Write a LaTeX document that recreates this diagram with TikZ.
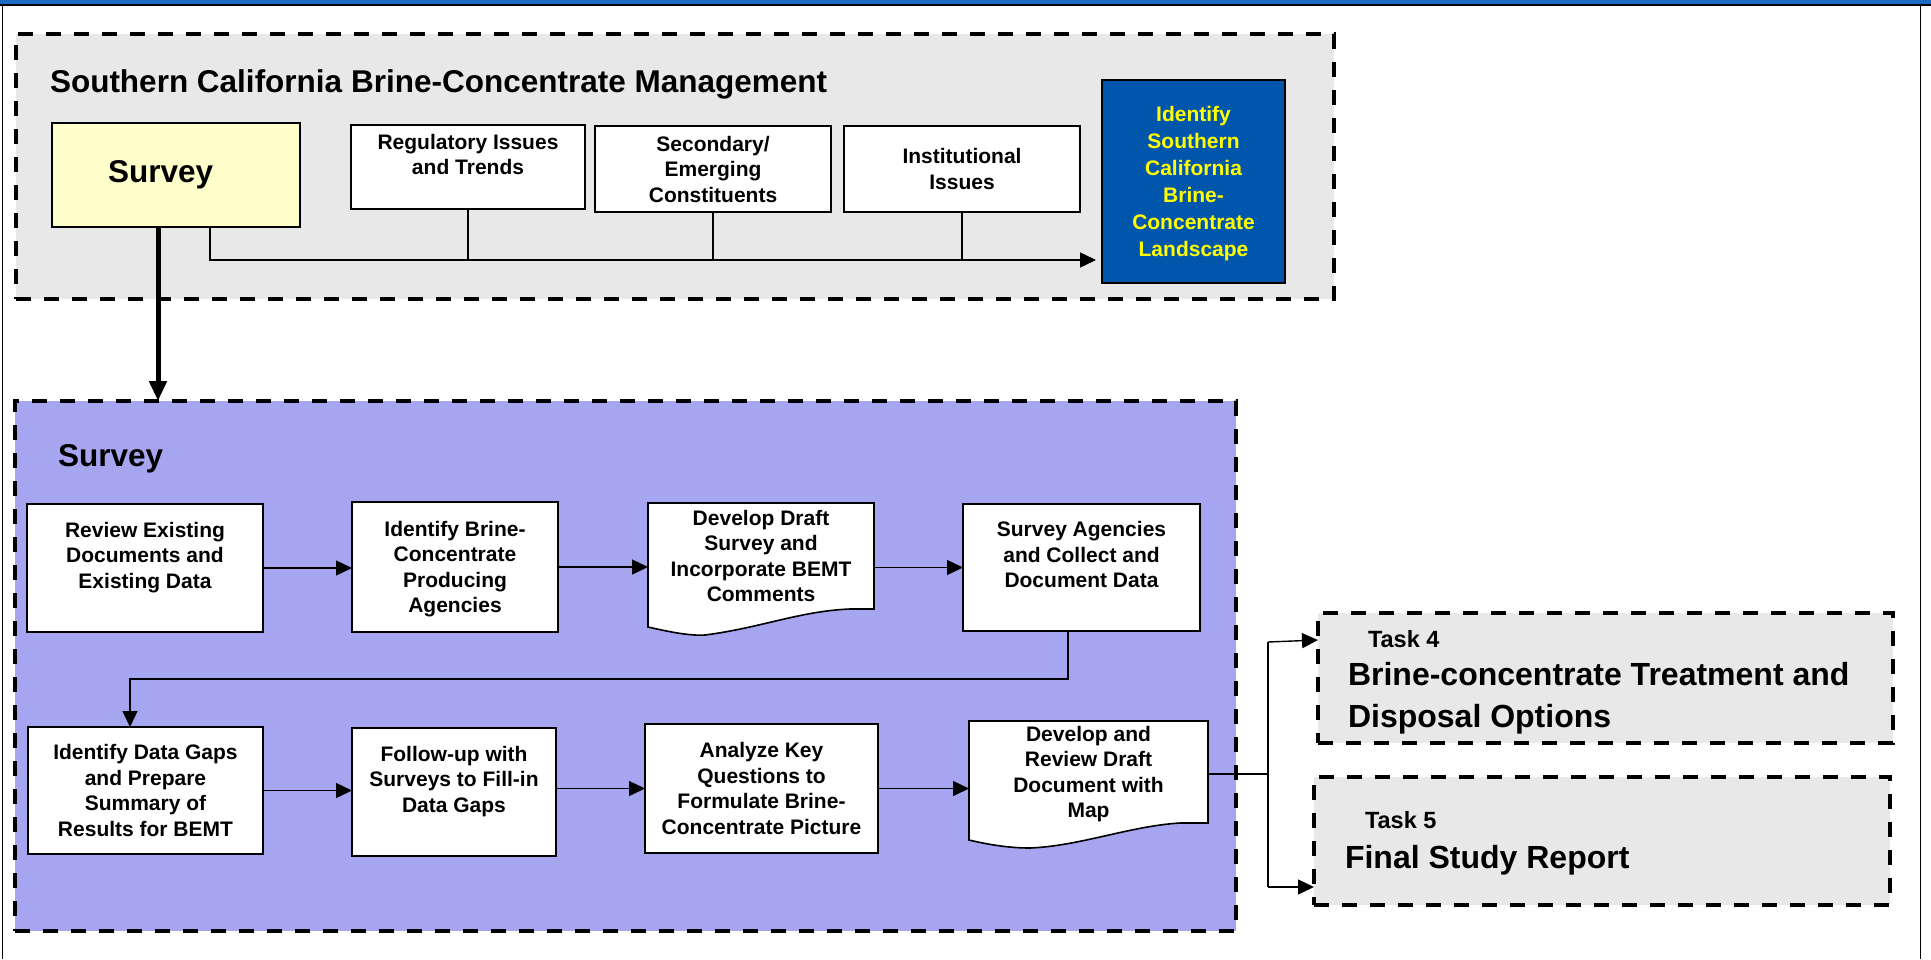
\documentclass[tikz,border=0pt]{standalone}
\usepackage{fontspec}
\setmainfont{Liberation Sans}
\usetikzlibrary{arrows.meta,calc}
\definecolor{band}{RGB}{31,107,194}
\definecolor{grayfill}{RGB}{232,232,232}
\definecolor{yel}{RGB}{255,255,204}
\definecolor{bluebox}{RGB}{0,86,170}
\definecolor{yeltext}{RGB}{255,255,0}
\definecolor{purp}{RGB}{165,165,240}
\newcommand\lnS{\vrule width 0pt height 0.94em depth 0.22em}
\newcommand\fBox{\fontsize{10.5pt}{12.75pt}\selectfont\bfseries}
\newcommand\fBlue{\fontsize{10.5pt}{13.5pt}\selectfont\bfseries}
\newcommand\fTitle{\fontsize{15.75pt}{19pt}\selectfont\bfseries}
\newcommand\fTask{\fontsize{11.75pt}{14pt}\selectfont\bfseries}
\newcommand\fBig{\fontsize{16pt}{21pt}\selectfont\bfseries}
\begin{document}
\begin{tikzpicture}[x=0.5pt,y=-0.5pt,
  wbox/.style={draw=black, line width=0.8pt, fill=white, inner sep=0pt, outer sep=0pt, align=center, font=\fBox},
  plainbox/.style={inner sep=0pt, outer sep=0pt, align=center, font=\fBox},
  docshape/.style={draw=black, line width=0.8pt, fill=white},
  region/.style={draw=black, line width=1.75pt, dash pattern=on 7.5pt off 6.5pt, inner sep=0pt, outer sep=0pt},
  conn/.style={draw=black, line width=0.7pt},
  arr/.style={conn, -{Triangle[length=8pt,width=7.5pt]}},
  thickarr/.style={draw=black, line width=2.5pt, -{Triangle[length=10pt,width=8.5pt]}},
  lbl/.style={anchor=base west, inner sep=0pt, outer sep=0pt}]
\useasboundingbox (0,0) rectangle (1931,959);
% frame
\fill[band] (0,0) rectangle (1931,4);
\draw[line width=1pt] (0,4.5) -- (1931,4.5);
\draw[line width=0.8pt] (2.5,4.5) -- (2.5,959);
\draw[line width=0.8pt] (1920.5,4.5) -- (1920.5,959);

% top region
\node[region, fill=grayfill, minimum width=659pt, minimum height=132.5pt] (gry) at (675,166.5) {};
\node[lbl, font=\fTitle] (ttl) at (50,92.5) {Southern California Brine-Concentrate Management};
\node[wbox, fill=yel, font=\fTitle, align=left, text width=68pt, inner xsep=28pt, minimum height=52pt] (svy) at (176,175) {Survey};
\node[wbox, minimum width=117pt, minimum height=42pt] (reg) at (468,167) {\lnS Regulatory Issues\\\lnS and Trends\\\lnS};
\node[wbox, minimum width=118pt, minimum height=43pt] (sec) at (713,169) {\lnS Secondary/\\\lnS Emerging\\\lnS Constituents};
\node[wbox, minimum width=118pt, minimum height=43pt] (ins) at (962,169) {\lnS Institutional\\\lnS Issues};
\node[wbox, fill=bluebox, text=yeltext, font=\fBlue, minimum width=91.5pt, minimum height=101.5pt] (blu) at (1193.5,181.5) {\lnS Identify\\\lnS Southern\\\lnS California\\\lnS Brine-\\\lnS Concentrate\\\lnS Landscape};
\coordinate (bus) at (210,260);
\draw[arr, shorten >=3pt] (svy.south -| bus) -- (bus) -- (bus -| blu.west);
\draw[conn] (reg.south) -- (reg.south |- bus);
\draw[conn] (sec.south) -- (sec.south |- bus);
\draw[conn] (ins.south) -- (ins.south |- bus);

% survey region
\node[region, fill=purp, minimum width=610.5pt, minimum height=265pt] (pur) at (625.5,666) {};
\coordinate (tk) at (158,0);
\draw[thickarr] (svy.south -| tk) -- (tk |- pur.north);
\node[lbl, font=\fTitle] (pttl) at (58,466) {Survey};

% row 1
\node[wbox, minimum width=118pt, minimum height=64pt] (rev) at (145,568) {\lnS Review Existing\\\lnS Documents and\\\lnS Existing Data\\\lnS};
\node[wbox, minimum width=103pt, minimum height=65pt] (idb) at (455,567) {\lnS Identify Brine-\\\lnS Concentrate\\\lnS Producing\\\lnS Agencies};
\filldraw[docshape] (648,503) -- (874,503) -- (874,609) -- (850,609) .. controls (800,611) and (760,628) .. (705,635) .. controls (690,636) and (670,632) .. (648,627) -- cycle;
\node[plainbox, minimum width=113pt, minimum height=53pt] (ddr) at (761,556) {\lnS Develop Draft\\\lnS Survey and\\\lnS Incorporate BEMT\\\lnS Comments};
\node[wbox, minimum width=118.5pt, minimum height=63.5pt] (sag) at (1081.5,567.5) {\lnS Survey Agencies\\\lnS and Collect and\\\lnS Document Data\\\lnS};
\draw[arr] (rev.east) -- (rev.east -| idb.west);
\draw[arr] (idb.east) -- (idb.east -| ddr.west);
\draw[arr] (ddr.east |- sag.west) -- (sag.west);

% row 2
\node[wbox, minimum width=117.5pt, minimum height=63.5pt] (ida) at (145.5,790.5) {\lnS Identify Data Gaps\\\lnS and Prepare\\\lnS Summary of\\\lnS Results for BEMT};
\node[wbox, minimum width=102pt, minimum height=64pt] (fol) at (454,792) {\lnS Follow-up with\\\lnS Surveys to Fill-in\\\lnS Data Gaps\\\lnS};
\node[wbox, minimum width=116.5pt, minimum height=64.5pt] (ana) at (761.5,788.5) {\lnS Analyze Key\\\lnS Questions to\\\lnS Formulate Brine-\\\lnS Concentrate Picture};
\filldraw[docshape] (969,721) -- (1208,721) -- (1208,823) -- (1180,823) .. controls (1130,826) and (1080,846) .. (1030,848) .. controls (1010,848) and (990,845) .. (969,840) -- cycle;
\node[plainbox, minimum width=119.5pt, minimum height=51pt] (drv) at (1088.5,772) {\lnS Develop and\\\lnS Review Draft\\\lnS Document with\\\lnS Map};
\draw[arr] (ida.east) -- (ida.east -| fol.west);
\draw[arr] (ana.west -| fol.east) -- (ana.west);
\draw[arr] (ana.east) -- (ana.east -| drv.west);

\coordinate (c1) at (1068,679);
\coordinate (c2) at (130,679);
\draw[arr] (sag.south -| c1) -- (c1) -- (c2) -- (c2 |- ida.north);

% tasks
\node[region, fill=grayfill, minimum width=287.5pt, minimum height=65pt] (t4) at (1605.5,678) {};
\node[region, fill=grayfill, minimum width=288pt, minimum height=64pt] (t5) at (1602,841) {};
\node[lbl, font=\fTask] (t4a) at (1368,647) {Task 4};
\node[lbl, font=\fBig] (t4b) at (1348,685) {Brine-concentrate Treatment and};
\node[lbl, font=\fBig] (t4c) at (1348,727) {Disposal Options};
\node[lbl, font=\fTask] (t5a) at (1365,828) {Task 5};
\node[lbl, font=\fBig] (t5b) at (1345,868) {Final Study Report};

\coordinate (sp) at (1268,774);
\coordinate (s4) at (1268,642);
\coordinate (s5) at (1268,887);
\draw[conn] (drv.east |- sp) -- (sp);
\draw[conn] (s4) -- (s5);
\draw[arr] (s4) -- ($(t4.west)+(0,-38)$);
\draw[arr] (s5) -- (s5 -| t5.west);
\end{tikzpicture}
\end{document}
